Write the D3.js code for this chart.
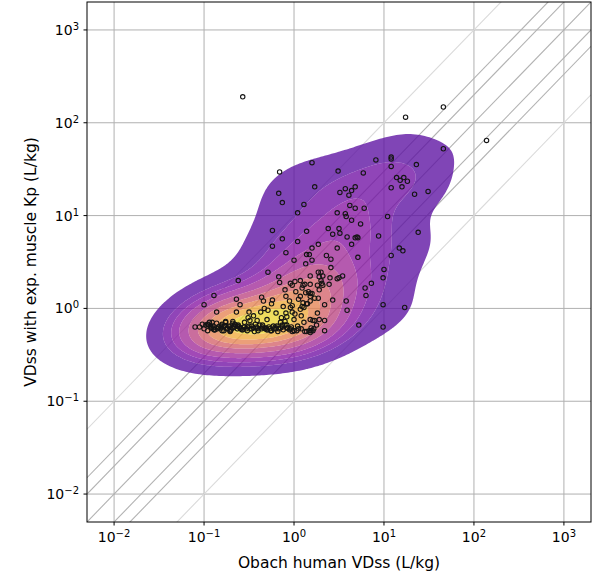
<!DOCTYPE html>
<html>
<head>
<meta charset="utf-8">
<script src="https://cdn.jsdelivr.net/npm/d3@7"></script>
<style>
  body { margin: 0; background: #fff; }
  text { font-family: "DejaVu Sans", sans-serif; fill: #000; }
</style>
</head>
<body>
<svg id="chart"></svg>
<script>
// log10 of VDss (L/kg), one entry per compound
// (the last rows are compounds that overlap in the crowded bottom cluster)
const obachLogVdss = [
  -0.57, 1.24, 1.66, 2.14, 1.66, -0.16, 0.20, 0.49, 0.77, 0.91,
  1.08, 1.08, 1.08, 1.36, 1.14, 1.18, 1.22, 1.26, 1.20, 1.08,
  1.34, 1.49, -0.17, -0.13, 0.23, 0.57, 0.64, 0.68, 0.61, 0.51,
  0.11, 0.04, 0.62, 0.68, 0.78, 0.48, 0.57, 0.58, 0.64, 0.74,
  1.04, -0.24, 0.14, 0.38, 0.50, 0.43, 0.51, 0.59, 0.68, 0.70,
  0.71, -0.13, 0.04, 0.94, 1.38, -0.24, 0.27, 0.20, 0.48, 0.64,
  -0.09, 1.08, 1.17, 1.21, 0.14, 0.17, 0.36, 0.41, 0.71, 0.20,
  0.13, 0.00, -0.29, -0.17, 1.00, 0.99, 0.86, 0.79, 0.80, 0.27,
  0.30, 0.32, 0.28, 0.30, 0.40, 0.48, 0.50, 0.54, 0.26, 0.32,
  0.39, 0.07, 0.12, 0.09, 0.01, -0.04, -0.02, -0.10, -0.09, 0.41,
  0.18, 0.20, 0.23, 0.27, 0.43, 0.58, 0.34, 0.99, 1.23, 0.59,
  0.26, 0.72, 0.99, 0.14, 0.10, 0.09, 0.07, 0.11, -0.04, -0.02,
  0.01, 0.11, 0.18, 0.21, 0.23, 0.28, 0.34, 0.17, 0.19, 0.21,
  0.18, 0.34, -0.14, -0.10, -0.08, -0.08, -0.04, 0.00, 0.03, -0.13,
  0.13, 0.10, -0.62, -0.89, -1.00, -0.64, -0.60, -0.36, -0.34, -0.24,
  -0.86, -0.64, -0.50, -0.37, -0.29, -1.10, -0.96, -0.91, -0.89, -0.93,
  -0.80, -0.76, -0.77, -0.72, -0.71, -0.68, -0.66, -0.63, -0.63, -0.59,
  -0.56, -0.53, -0.49, -0.47, -0.43, -0.42, -0.39, -0.36, -0.32, -0.30,
  -0.27, -0.22, -0.19, -0.51, -0.41, -0.02, 0.07, -0.09, 0.16, 0.18,
  0.18, 0.31, 0.18, 0.02, 0.28, 0.18, -0.16,
  -0.90, -0.85, -0.81, -0.74, -0.69, -0.61, -0.57, -0.52, -0.48, -0.45,
  -0.40, -0.35, -0.31, -0.26, -0.21, -0.17, -0.12, -0.07, -0.02, 0.05,
  0.12, 0.22, -0.55, -0.45, -0.30, -0.20, -0.12, -0.05, 0.05, 0.15,
  -0.33, -0.25, 0.00, 0.08, -0.15,
  -0.95, -0.92, -0.88, -0.84, -0.80, -0.78, -0.75, -0.71, -0.68, -0.65,
  -0.62, -0.60, -0.58, -0.55, -0.52, -0.50, -0.47, -0.44, -0.41, -0.38,
  -0.35, -0.33, -0.30, -0.28, -0.25, -0.23, -0.20, -0.18, -0.15, -0.13,
  -0.10, -0.08, -0.05, -0.03, 0.00, 0.04, 0.08, 0.14, 0.19, 0.25,
  -1.05, -1.02, -1.00, -0.98, -0.96, -0.94, -0.92, -0.90, -0.88, -0.86,
  -0.84, -0.82, -0.80, -0.78, -0.76, -0.74, -0.72, -0.70, -0.68, -0.66
];
const muscleKpLogVdss = [
  2.28, 2.06, 2.17, 1.81, 1.72, 1.47, 1.57, 1.48, 1.46, 1.60,
  1.63, 1.61, 1.53, 1.55, 1.41, 1.38, 1.41, 1.37, 1.31, 1.30,
  1.23, 1.26, 1.24, 1.14, 1.31, 1.29, 1.27, 1.31, 1.22, 1.25,
  1.12, 1.03, 1.11, 1.08, 1.08, 1.03, 1.02, 0.99, 0.95, 0.91,
  0.99, 0.84, 0.83, 0.86, 0.86, 0.80, 0.81, 0.77, 0.76, 0.77,
  0.76, 0.75, 0.72, 0.78, 0.82, 0.67, 0.69, 0.65, 0.65, 0.69,
  0.60, 0.57, 0.65, 0.62, 0.58, 0.58, 0.57, 0.53, 0.55, 0.52,
  0.48, 0.52, 0.39, 0.34, 0.42, 0.33, 0.27, 0.22, 0.14, 0.39,
  0.39, 0.35, 0.34, 0.30, 0.33, 0.32, 0.33, 0.35, 0.25, 0.25,
  0.26, 0.30, 0.26, 0.22, 0.29, 0.27, 0.25, 0.20, 0.13, 0.44,
  0.16, 0.16, 0.11, 0.11, 0.09, 0.08, 0.04, 0.04, 0.01, -0.02,
  -0.05, -0.18, -0.20, 0.05, 0.06, 0.02, 0.13, 0.01, 0.01, -0.04,
  -0.06, -0.15, -0.12, -0.13, -0.13, -0.12, -0.13, -0.24, -0.24, -0.24,
  -0.26, -0.24, -0.10, -0.14, -0.09, -0.18, -0.22, -0.24, -0.24, -0.20,
  0.17, 0.25, 0.30, 0.14, 0.04, 0.10, 0.04, 0.12, 0.08, 0.09,
  -0.04, -0.04, -0.04, -0.04, -0.02, -0.20, -0.17, -0.15, -0.23, -0.19,
  -0.17, -0.14, -0.19, -0.20, -0.24, -0.14, -0.17, -0.19, -0.22, -0.22,
  -0.20, -0.22, -0.13, -0.19, -0.17, -0.20, -0.22, -0.22, -0.22, -0.23,
  -0.22, -0.22, -0.19, -0.10, -0.13, 0.03, -0.01, -0.05, 0.18, 0.13,
  0.26, 0.27, 0.08, 0.18, 0.20, 0.35, 0.28,
  -0.21, -0.22, -0.20, -0.22, -0.21, -0.20, -0.23, -0.20, -0.22, -0.21,
  -0.24, -0.20, -0.21, -0.24, -0.20, -0.22, -0.23, -0.21, -0.25, -0.22,
  -0.25, -0.22, -0.15, -0.08, -0.12, -0.05, 0.02, 0.08, 0.10, 0.05,
  0.00, 0.05, -0.12, -0.08, -0.15,
  -0.18, -0.21, -0.23, -0.20, -0.24, -0.19, -0.22, -0.25, -0.21, -0.18,
  -0.18, -0.21, -0.23, -0.20, -0.24, -0.19, -0.22, -0.25, -0.21, -0.18,
  -0.18, -0.21, -0.23, -0.20, -0.24, -0.19, -0.22, -0.25, -0.21, -0.18,
  -0.18, -0.21, -0.23, -0.20, -0.24, -0.19, -0.22, -0.25, -0.21, -0.18,
  -0.20, -0.17, -0.22, -0.18, -0.24, -0.15, -0.21, -0.19, -0.23, -0.16,
  -0.20, -0.22, -0.18, -0.24, -0.15, -0.21, -0.19, -0.23, -0.16, -0.20
];

const axisLimits = [0.005, 2000];
const tickExponents = [-2, -1, 0, 1, 2, 3];
// fold-error reference lines y = k * x
const foldFactors = [10, 3, 2, 1, 1 / 2, 1 / 3, 1 / 10];
const kdeLevelCount = 10;
const kdeThresh = 0.05;
// kernel widening per axis and how much of the x/y correlation the kernel keeps
const bwAdjustX = 1.4, bwAdjustY = 0.95, kernelCorr = 0.35;

const width = 600;
const height = 578;
const plotLeft = 87, plotRight = 591, plotTop = 2, plotBottom = 522;

const xScale = d3.scaleLog().domain(axisLimits).range([plotLeft, plotRight]);
const yScale = d3.scaleLog().domain(axisLimits).range([plotBottom, plotTop]);

const svg = d3.select("#chart")
    .attr("width", width)
    .attr("height", height);

svg.append("defs").append("clipPath")
    .attr("id", "plot-clip")
  .append("rect")
    .attr("x", plotLeft).attr("y", plotTop)
    .attr("width", plotRight - plotLeft).attr("height", plotBottom - plotTop);

const plot = svg.append("g").attr("clip-path", "url(#plot-clip)");

// grid
const tickValues = tickExponents.map(e => Math.pow(10, e));
plot.selectAll(".vgrid")
    .data(tickValues)
    .enter().append("line")
    .attr("x1", d => xScale(d)).attr("x2", d => xScale(d))
    .attr("y1", plotTop).attr("y2", plotBottom)
    .attr("stroke", "#b0b0b0").attr("stroke-width", 1);
plot.selectAll(".hgrid")
    .data(tickValues)
    .enter().append("line")
    .attr("x1", plotLeft).attr("x2", plotRight)
    .attr("y1", d => yScale(d)).attr("y2", d => yScale(d))
    .attr("stroke", "#b0b0b0").attr("stroke-width", 1);

// fold lines
plot.selectAll(".fold")
    .data(foldFactors)
    .enter().append("line")
    .attr("x1", xScale(axisLimits[0])).attr("y1", d => yScale(d * axisLimits[0]))
    .attr("x2", xScale(axisLimits[1])).attr("y2", d => yScale(d * axisLimits[1]))
    .attr("stroke", d => (d === 10 || d === 0.1) ? "#dadada" : "#b2b2b2")
    .attr("stroke-width", 1.1);

// bivariate gaussian KDE in log space (scott bandwidth)
const n = obachLogVdss.length;
const mx = d3.mean(obachLogVdss), my = d3.mean(muscleKpLogVdss);
let sxx = 0, syy = 0, sxy = 0;
for (let i = 0; i < n; i++) {
    const dx = obachLogVdss[i] - mx, dy = muscleKpLogVdss[i] - my;
    sxx += dx * dx; syy += dy * dy; sxy += dx * dy;
}
const factor = Math.pow(n, -1 / 6);
const sdx = Math.sqrt(sxx / (n - 1)) * factor * bwAdjustX;
const sdy = Math.sqrt(syy / (n - 1)) * factor * bwAdjustY;
const rho = sxy / Math.sqrt(sxx * syy) * kernelCorr;
const cxx = sdx * sdx, cyy = sdy * sdy, cxy = rho * sdx * sdy;
const det = cxx * cyy - cxy * cxy;
const ixx = cyy / det, iyy = cxx / det, ixy = -cxy / det;

const gridSize = 200;
const gx0 = d3.min(obachLogVdss) - 3 * sdx;
const gx1 = d3.max(obachLogVdss) + 3 * sdx;
const gy0 = d3.min(muscleKpLogVdss) - 3 * sdy;
const gy1 = d3.max(muscleKpLogVdss) + 3 * sdy;
const stepX = (gx1 - gx0) / (gridSize - 1);
const stepY = (gy1 - gy0) / (gridSize - 1);

const density = new Float64Array(gridSize * gridSize);
for (let j = 0; j < gridSize; j++) {
    const gy = gy0 + j * stepY;
    for (let i = 0; i < gridSize; i++) {
        const gx = gx0 + i * stepX;
        let s = 0;
        for (let k = 0; k < n; k++) {
            const dx = gx - obachLogVdss[k], dy = gy - muscleKpLogVdss[k];
            s += Math.exp(-0.5 * (dx * dx * ixx + 2 * dx * dy * ixy + dy * dy * iyy));
        }
        density[j * gridSize + i] = s;
    }
}

// iso-proportion levels -> density levels
const sorted = Array.from(density).sort((a, b) => b - a);
const total = d3.sum(sorted);
const cum = [];
let run = 0;
for (const v of sorted) { run += v; cum.push(run / total); }
const props = d3.range(kdeLevelCount).map(i => kdeThresh + i * (1 - kdeThresh) / (kdeLevelCount - 1));
const levels = props.map(p => {
    const idx = d3.bisectLeft(cum, 1 - p);
    return sorted[Math.min(idx, sorted.length - 1)];
});

const contours = d3.contours()
    .size([gridSize, gridSize])
    .thresholds(levels)(density);

const gridToX = d3.scaleLinear().domain([0.5, gridSize - 0.5])
    .range([xScale(Math.pow(10, gx0)), xScale(Math.pow(10, gx1))]);
const gridToY = d3.scaleLinear().domain([0.5, gridSize - 0.5])
    .range([yScale(Math.pow(10, gy0)), yScale(Math.pow(10, gy1))]);
const path = d3.geoPath(d3.geoTransform({
    point: function(x, y) { this.stream.point(gridToX(x), gridToY(y)); }
}));

const lo = levels[0], hi = levels[levels.length - 1];
const bands = d3.range(levels.length - 1).map(i => ({
    d: (path(contours[i]) || "") + (path(contours[i + 1]) || ""),
    t: ((levels[i] + levels[i + 1]) / 2 - lo) / (hi - lo)
}));

// plasma, slightly muted like the reference
const bandColor = t => d3.interpolateRgb(d3.interpolatePlasma(0.12 + 0.88 * t), "#8a8a8a")(0.12);

plot.selectAll(".band")
    .data(bands)
    .enter().append("path")
    .attr("d", d => d.d)
    .attr("fill-rule", "evenodd")
    .attr("fill", d => bandColor(d.t))
    .attr("fill-opacity", 0.78)
    .attr("stroke", "none");

// points
plot.selectAll("circle")
    .data(d3.range(n))
    .enter().append("circle")
    .attr("cx", i => xScale(Math.pow(10, obachLogVdss[i])))
    .attr("cy", i => yScale(Math.pow(10, muscleKpLogVdss[i])))
    .attr("r", 2.2)
    .attr("fill", "none")
    .attr("stroke", "#151515")
    .attr("stroke-width", 1.1);

// frame
svg.append("rect")
    .attr("x", plotLeft).attr("y", plotTop)
    .attr("width", plotRight - plotLeft).attr("height", plotBottom - plotTop)
    .attr("fill", "none").attr("stroke", "#000").attr("stroke-width", 1);

// ticks and tick labels
const minus = e => (e < 0 ? "\u2212" + Math.abs(e) : String(e));

const xt = svg.selectAll(".xtick").data(tickExponents).enter().append("g")
    .attr("transform", e => `translate(${xScale(Math.pow(10, e))},${plotBottom})`);
xt.append("line").attr("y2", 3.5).attr("stroke", "#000");
const xl = xt.append("text").attr("y", 20).attr("text-anchor", "middle").style("font-size", "14px");
xl.append("tspan").text("10");
xl.append("tspan").attr("dy", "-0.5em").style("font-size", "10px").text(e => minus(e));

const yt = svg.selectAll(".ytick").data(tickExponents).enter().append("g")
    .attr("transform", e => `translate(${plotLeft},${yScale(Math.pow(10, e))})`);
yt.append("line").attr("x2", -3.5).attr("stroke", "#000");
const yl = yt.append("text").attr("x", -8).attr("y", 5).attr("text-anchor", "end").style("font-size", "14px");
yl.append("tspan").text("10");
yl.append("tspan").attr("dy", "-0.5em").style("font-size", "10px").text(e => minus(e));

// axis labels
svg.append("text")
    .attr("x", (plotLeft + plotRight) / 2)
    .attr("y", 568)
    .attr("text-anchor", "middle")
    .style("font-size", "15.5px")
    .text("Obach human VDss (L/kg)");

svg.append("text")
    .attr("transform", `translate(36,${(plotTop + plotBottom) / 2}) rotate(-90)`)
    .attr("text-anchor", "middle")
    .style("font-size", "15.5px")
    .text("VDss with exp. muscle Kp (L/kg)");
</script>
</body>
</html>
